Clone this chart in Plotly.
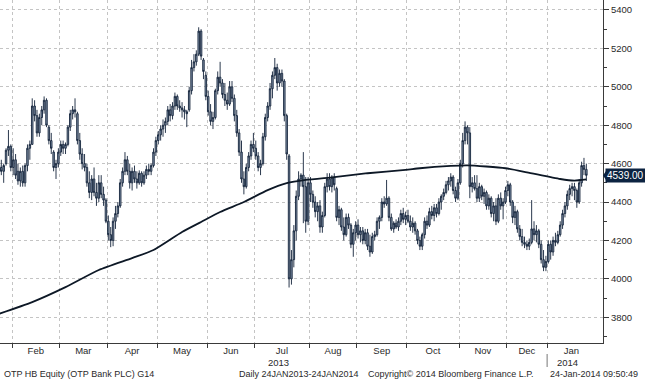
import pandas as pd
import plotly.graph_objects as go

# ---------------- data ----------------
holidays = ["2013-03-15", "2013-04-01", "2013-05-01", "2013-05-20", "2013-08-19", "2013-08-20",
            "2013-10-23", "2013-11-01", "2013-12-24", "2013-12-25", "2013-12-26", "2013-12-27",
            "2013-12-31", "2014-01-01"]
dates = [d for d in pd.bdate_range("2013-01-24", "2014-01-24") if d.strftime("%Y-%m-%d") not in holidays]

opens = [4560,4580,4560,4600,4670,4690,4580,4620,4560,4510,4560,
         4500,4590,4680,4700,4900,4850,4760,4840,4880,4930,
         4790,4720,4660,4580,4600,4660,4700,
         4680,4700,4790,4860,4880,4860,4720,4650,4600,4580,4500,4450,
         4520,4450,4420,4500,4440,
         4410,4300,4230,4200,4300,4340,4380,4500,4560,
         4620,4560,4500,4560,4520,4500,4550,4500,4540,4570,4560,
         4590,4660,4720,4750,4780,4800,4820,4880,4850,4900,4950,4900,4890,4880,4870,
         4880,4980,5100,5130,5170,5290,5140,
         5060,4950,4870,4820,4840,4980,5050,5020,4960,4930,4910,5000,4940,4850,
         4760,4660,4520,4480,4580,4640,4700,
         4680,4640,4580,4600,4740,4840,4900,4990,5060,5100,5020,5070,5030,4850,
         4640,4000,4100,4250,4430,4520,4540,4480,4300,
         4500,4440,4400,4350,4380,4270,4330,4480,4520,4480,4530,
         4470,4320,4360,4270,4230,4320,4280,4180,4240,4280,
         4230,4250,4200,4240,4170,4140,4220,4230,4300,4320,4400,4390,
         4420,4320,4260,4290,4270,4300,4340,
         4310,4330,4300,4270,4290,4250,4200,4170,4230,4300,4280,4350,
         4330,4370,4340,4400,4430,4450,4490,4510,4530,4460,4420,
         4500,4600,4720,4790,4760,
         4480,4500,4470,4420,4480,4430,4450,4380,4420,4340,4380,4300,
         4420,4380,4400,4460,4490,4400,4320,4350,4260,4220,4190,4180,4170,
         4190,4260,4230,4250,4180,4100,4060,4090,
         4180,4140,4200,4190,4230,4280,4340,4380,4440,4470,4480,4460,4400,4500,4590,4570]

highs = [4610,4620,4600,4680,4775,4700,4680,4650,4600,4580,4590,
         4600,4700,4720,4940,4930,4880,4860,4900,4950,4940,
         4800,4760,4670,4620,4680,4720,4720,
         4710,4800,4880,4900,4940,4870,4760,4680,4650,4600,4560,4540,
         4580,4500,4540,4540,4480,
         4420,4330,4270,4320,4380,4400,4520,4580,4660,
         4640,4600,4580,4590,4560,4565,4560,4560,4590,4600,4600,
         4680,4740,4770,4800,4830,4840,4900,4910,4920,4970,4960,4930,4920,4900,4880,
         5000,5140,5170,5190,5310,5300,5150,
         5080,4980,4910,4870,4990,5080,5130,5040,5020,4970,5030,5030,4960,4880,
         4780,4720,4560,4600,4660,4720,4760,
         4720,4660,4620,4760,4860,4920,5020,5080,5150,5120,5090,5090,5040,4860,
         4650,4150,4280,4460,4560,4550,4660,4530,4530,
         4530,4460,4430,4400,4410,4350,4500,4550,4550,4540,4550,
         4480,4380,4370,4320,4340,4340,4290,4260,4300,4310,
         4270,4270,4260,4260,4230,4240,4250,4320,4330,4420,4430,4515,
         4430,4340,4300,4310,4320,4360,4370,
         4350,4360,4330,4320,4300,4260,4220,4240,4320,4330,4370,4380,
         4390,4390,4420,4440,4470,4510,4530,4550,4540,4480,4520,
         4620,4760,4820,4800,4790,
         4530,4540,4540,4500,4490,4470,4460,4440,4430,4400,4420,4440,
         4450,4420,4480,4510,4500,4410,4380,4360,4280,4260,4220,4200,4210,
         4410,4300,4280,4260,4200,4150,4120,4200,
         4200,4220,4240,4250,4300,4360,4400,4460,4490,4500,4500,4470,4520,4610,4630,4600]

lows = [4520,4540,4500,4590,4640,4560,4540,4520,4490,4480,4480,
        4480,4560,4620,4700,4820,4740,4740,4800,4860,4790,
        4700,4650,4560,4520,4580,4640,4650,
        4650,4690,4770,4830,4840,4700,4620,4570,4560,4480,4420,4410,
        4430,4380,4400,4420,4380,
        4290,4200,4165,4170,4260,4320,4370,4480,4540,
        4540,4470,4460,4500,4470,4490,4480,4490,4520,4540,4540,
        4580,4640,4700,4720,4740,4760,4800,4820,4830,4880,4880,4870,4840,4830,4790,
        4870,4960,5080,5110,5160,5140,5040,
        4930,4850,4800,4780,4830,4960,5000,4940,4900,4880,4900,4920,4820,4740,
        4640,4500,4440,4470,4560,4620,4660,
        4620,4560,4540,4590,4720,4820,4880,4940,5040,4980,5000,5000,4820,4620,
        3955,3970,4060,4200,4410,4480,4290,4240,4280,
        4400,4370,4320,4300,4240,4240,4320,4450,4460,4450,4460,
        4300,4280,4250,4200,4220,4260,4160,4115,4200,4210,
        4190,4180,4180,4150,4115,4130,4200,4220,4260,4300,4370,4380,
        4300,4250,4240,4260,4250,4280,4290,
        4280,4290,4250,4240,4230,4180,4150,4150,4210,4260,4270,4310,
        4300,4320,4330,4360,4410,4440,4460,4480,4440,4400,4410,
        4490,4580,4700,4700,4420,
        4450,4460,4400,4400,4410,4390,4360,4360,4320,4300,4280,4290,
        4360,4310,4390,4430,4380,4290,4280,4240,4200,4170,4160,4150,4150,
        4180,4200,4190,4160,4080,4040,4040,4080,
        4100,4120,4170,4180,4220,4260,4320,4360,4410,4430,4410,4370,4390,4480,4540,4510]

closes = [4590,4560,4590,4670,4690,4580,4620,4540,4510,4560,4500,
          4590,4680,4700,4900,4850,4760,4840,4880,4930,4800,
          4720,4680,4580,4600,4660,4700,4680,
          4700,4790,4860,4880,4870,4720,4650,4600,4580,4500,4450,4520,
          4450,4420,4500,4440,4410,
          4300,4230,4200,4300,4340,4380,4500,4560,4620,
          4560,4500,4560,4520,4500,4550,4500,4540,4570,4560,4590,
          4660,4720,4750,4780,4800,4820,4880,4850,4900,4950,4900,4890,4880,4870,4860,
          4980,5100,5130,5170,5290,5160,5080,
          4950,4870,4820,4840,4980,5050,5020,4960,4930,4910,5000,4940,4850,4760,
          4660,4520,4480,4580,4640,4700,4680,
          4640,4580,4600,4740,4840,4900,4990,5060,5100,5020,5070,5030,4850,4650,
          4000,4100,4250,4430,4520,4540,4480,4300,4500,
          4440,4400,4350,4380,4270,4330,4480,4520,4480,4530,4490,
          4320,4360,4270,4230,4320,4280,4180,4240,4280,4230,
          4250,4200,4240,4170,4140,4220,4230,4300,4320,4400,4390,4420,
          4320,4260,4290,4270,4300,4340,4310,
          4330,4300,4270,4290,4250,4200,4170,4230,4300,4280,4350,4330,
          4370,4340,4400,4430,4450,4490,4510,4530,4460,4420,4500,
          4600,4720,4790,4760,4480,
          4500,4470,4420,4480,4430,4450,4380,4420,4340,4380,4300,4420,
          4380,4400,4460,4490,4400,4320,4350,4260,4220,4190,4180,4170,4190,
          4260,4230,4250,4180,4100,4060,4090,4180,
          4140,4200,4190,4230,4280,4340,4380,4440,4470,4480,4460,4400,4500,4590,4570,4539]

# 200-day moving average, sampled at trading-day numbers
ma_day = [0, 14, 28, 42, 56, 65, 77, 85, 93, 103, 113, 121, 129, 141, 155, 171, 177, 190, 197, 213, 222, 236, 242, 247]
ma_val = [3818, 3879, 3957, 4046, 4108, 4150, 4244, 4296, 4348, 4400, 4462, 4498, 4515, 4530, 4550, 4567, 4576,
          4588, 4591, 4576, 4555, 4520, 4512, 4518]

y_ticks = [3800, 4000, 4200, 4400, 4600, 4800, 5000, 5200, 5400]
year_labels = {7: "2013", 1: "2014"}
title_text = "OTP HB Equity (OTP Bank PLC) G14"
footer_texts = ["Daily 24JAN2013-24JAN2014", "Copyright\u00a9 2014 Bloomberg Finance L.P.", "24-Jan-2014 09:50:49"]

# ---------------- derived axis helpers ----------------
day = list(range(len(dates)))
bounds, months = [], []
for i in range(1, len(dates)):
    if dates[i].month != dates[i - 1].month:
        bounds.append(i - 0.5)
        months.append(dates[i])
lens = [bounds[k + 1] - bounds[k] for k in range(len(bounds) - 1)]
avg_len = sum(lens) / len(lens)
label_pos, label_txt = [], []
for k, m in enumerate(months):
    nxt = bounds[k + 1] if k + 1 < len(bounds) else bounds[k] + avg_len
    label_pos.append((bounds[k] + nxt) / 2)
    label_txt.append(m.strftime("%b"))

BODY = "#8798ae"
EDGE = "#13223a"
GRID = "#c4c4c4"
TXT = "#2a2a2a"
FONT = "Liberation Sans, Arial, sans-serif"

fig = go.Figure()
fig.add_trace(go.Candlestick(
    x=day, open=opens, high=highs, low=lows, close=closes,
    increasing=dict(line=dict(color=EDGE, width=0.9), fillcolor=BODY),
    decreasing=dict(line=dict(color=EDGE, width=0.9), fillcolor=BODY),
    whiskerwidth=0, showlegend=False, hoverinfo="skip"))
fig.add_trace(go.Scatter(
    x=ma_day, y=ma_val, mode="lines", line=dict(color="#0d1826", width=1.8, shape="spline", smoothing=0.6),
    showlegend=False, hoverinfo="skip"))

PW = 603.0
PH = 343.0

fig.update_layout(
    width=645, height=380,
    margin=dict(l=0, r=42, t=0, b=37),
    paper_bgcolor="white", plot_bgcolor="white",
    boxgap=0.1,
    font=dict(family=FONT, size=10, color=TXT),
    xaxis=dict(
        range=[0.45, 254.0], rangeslider=dict(visible=False),
        tickmode="array", tickvals=label_pos, ticktext=label_txt,
        ticks="", showgrid=False, zeroline=False, ticklabelstandoff=-1,
        showline=True, linecolor="#3a3a3a", linewidth=1,
        tickfont=dict(family=FONT, size=9.5, color=TXT),
        minor=dict(tickmode="array", tickvals=bounds, ticks="outside", ticklen=4,
                   tickcolor="#3a3a3a", showgrid=True, gridcolor=GRID, griddash="dot", gridwidth=1),
    ),
    yaxis=dict(
        side="right", range=[3666, 5452],
        tickmode="array", tickvals=y_ticks, ticktext=[str(v) for v in y_ticks],
        ticks="outside", ticklen=5, tickcolor="#3a3a3a",
        showgrid=True, gridcolor=GRID, griddash="dot", gridwidth=1,
        zeroline=False, showline=True, linecolor="#3a3a3a", linewidth=1,
        tickfont=dict(family=FONT, size=9.5, color=TXT),
        minor=dict(dtick=100, tick0=0, ticks="outside", ticklen=3, tickcolor="#3a3a3a", showgrid=False),
    ),
)

# year labels under the month names
for pos, m in zip(label_pos, months):
    if m.month in year_labels:
        fig.add_annotation(xref="x", yref="paper", x=pos - 1.5, y=1 - 362 / PH, xanchor="center",
                           yanchor="middle", text=year_labels[m.month], showarrow=False,
                           font=dict(family=FONT, size=9.5, color=TXT))

last = closes[-1]
fig.add_annotation(xref="paper", yref="y", x=1.0, y=last, xanchor="left", yanchor="middle",
                   xshift=2, text="%.2f" % last, showarrow=False,
                   font=dict(family=FONT, size=10, color="white"),
                   bgcolor="#0c2341", borderpad=1)
# arrow tip of price tag
fig.add_shape(type="path", xref="paper", yref="paper",
              path="M 1.0 %f L %f %f L %f %f Z" % (
                  1 - 175.5 / PH, 1 + 4 / PW, 1 - 169.5 / PH, 1 + 4 / PW, 1 - 181.5 / PH),
              fillcolor="#0c2341", line=dict(width=0))
fig.add_shape(type="line", xref="paper", yref="paper",
              x0=608 / PW, x1=643 / PW, y0=1 - 181.5 / PH, y1=1 - 181.5 / PH,
              line=dict(color="white", width=1, dash="dot"))

# year separator
fig.add_shape(type="line", xref="x", yref="paper", x0=bounds[-1], x1=bounds[-1],
              y0=1 - 354 / PH, y1=1 - 367 / PH, line=dict(color="#777", width=1))

fig.add_annotation(xref="paper", yref="paper", x=2 / PW, y=1 - 374 / PH, xanchor="left", yanchor="middle",
                   text=title_text, showarrow=False, font=dict(family=FONT, size=9, color=TXT))
for px, t in zip([237, 366, 548], footer_texts):
    fig.add_annotation(xref="paper", yref="paper", x=px / PW, y=1 - 374 / PH, xanchor="left", yanchor="middle",
                       text=t, showarrow=False, font=dict(family=FONT, size=9, color=TXT))

fig.write_html("out.html", config={"displayModeBar": False},
               post_script="document.body.style.margin='0';document.body.style.overflow='hidden';")
